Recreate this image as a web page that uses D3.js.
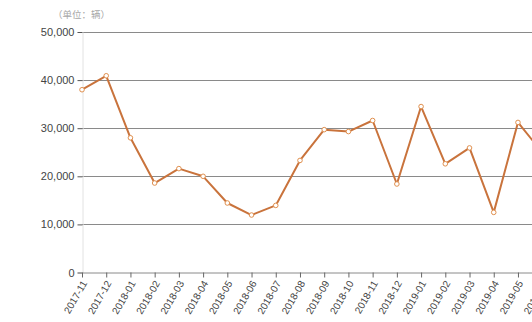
<!DOCTYPE html>
<html>
<head>
<meta charset="utf-8">
<script src="https://cdn.jsdelivr.net/npm/d3@7"></script>
<style>
  html, body { margin: 0; padding: 0; background: #fff; overflow: hidden; }
  text { font-family: "Liberation Sans", "Noto Sans CJK SC", sans-serif; }
</style>
</head>
<body>
<svg id="chart"></svg>
<script>
const width = 570;
const height = 322;

const months = [
  "2017-11", "2017-12", "2018-01", "2018-02", "2018-03", "2018-04", "2018-05",
  "2018-06", "2018-07", "2018-08", "2018-09", "2018-10", "2018-11", "2018-12",
  "2019-01", "2019-02", "2019-03", "2019-04", "2019-05", "2019-06"
];
const sales = [
  38000, 40900, 28000, 18600, 21600, 20000, 14450,
  11950, 13950, 23300, 29700, 29300, 31600, 18400,
  34500, 22600, 25900, 12500, 31200, 25000
];
const yTicks = [0, 10000, 20000, 30000, 40000, 50000];
const unitLabel = "（单位：辆）";

const svg = d3.select("#chart")
  .attr("width", width)
  .attr("height", height);

const x = d3.scalePoint()
  .domain(months)
  .range([82, 82 + 24.22 * (months.length - 1)]);

const y = d3.scaleLinear()
  .domain([0, 50000])
  .range([272.5, 32]);

// grid lines
svg.append("g")
  .selectAll("line")
  .data(yTicks.slice(1))
  .enter()
  .append("line")
  .attr("x1", 82)
  .attr("x2", width)
  .attr("y1", d => Math.round(y(d)) + 0.5)
  .attr("y2", d => Math.round(y(d)) + 0.5)
  .attr("stroke", "#8a8a8a")
  .attr("stroke-width", 1);

// y axis
const yAxis = svg.append("g")
  .attr("transform", "translate(82.5,0)")
  .call(d3.axisLeft(y).tickValues(yTicks).tickFormat(d3.format(",")).tickSize(5).tickPadding(3));
yAxis.select(".domain").attr("stroke", "#e2e2e2");
yAxis.selectAll(".tick line").attr("stroke", "#555");
yAxis.selectAll("text")
  .attr("fill", "#444")
  .style("font-size", "11px");

// x axis
const xAxis = svg.append("g")
  .attr("transform", "translate(0,272.5)")
  .call(d3.axisBottom(x).tickSize(5).tickSizeOuter(0));
xAxis.select(".domain").attr("stroke", "#8a8a8a");
xAxis.selectAll(".tick line").attr("stroke", "#666");
xAxis.selectAll("text")
  .attr("fill", "#444")
  .style("font-size", "10px")
  .style("text-anchor", "end")
  .attr("x", 0)
  .attr("y", 0)
  .attr("dy", "0.35em")
  .attr("transform", "translate(2,9) rotate(-60)");

// unit label
svg.append("text")
  .attr("x", 53)
  .attr("y", 18)
  .attr("fill", "#a8a8a8")
  .style("font-size", "9.5px")
  .style("font-family", "'Noto Sans CJK SC', sans-serif")
  .text(unitLabel);

// line
const line = d3.line()
  .x((d, i) => x(months[i]))
  .y(d => y(d));

svg.append("path")
  .datum(sales)
  .attr("fill", "none")
  .attr("stroke", "#c9733c")
  .attr("stroke-width", 2)
  .attr("stroke-linejoin", "round")
  .attr("d", line);

svg.append("g")
  .selectAll("circle")
  .data(sales)
  .enter()
  .append("circle")
  .attr("cx", (d, i) => x(months[i]))
  .attr("cy", d => y(d))
  .attr("r", 2.3)
  .attr("fill", "#fff")
  .attr("stroke", "#e0904f")
  .attr("stroke-width", 1);
</script>
</body>
</html>
